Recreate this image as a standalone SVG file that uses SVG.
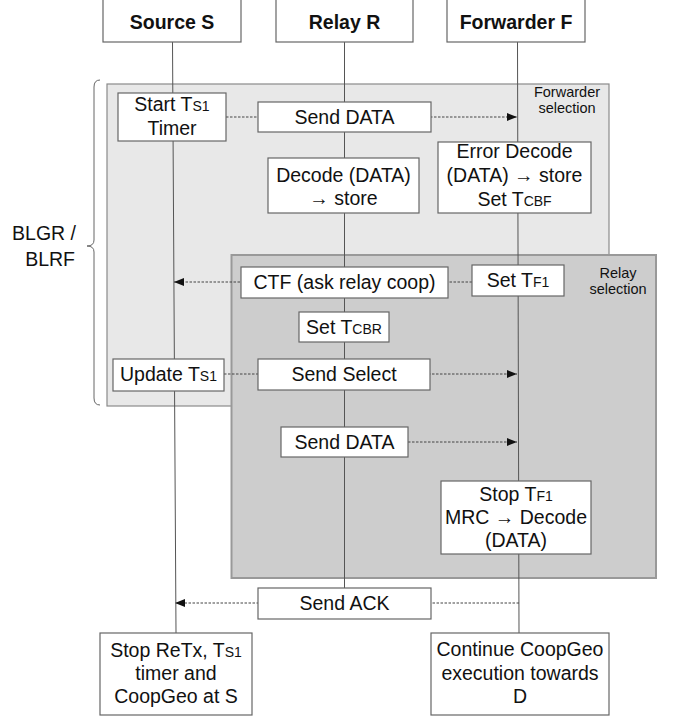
<svg xmlns="http://www.w3.org/2000/svg" width="673" height="717" viewBox="0 0 673 717">
<defs>
<marker id="ah" viewBox="0 0 10 10" refX="10" refY="5" markerWidth="10" markerHeight="10" markerUnits="userSpaceOnUse" orient="auto">
<path d="M0,1 L10,5 L0,9 Z" fill="#111"/>
</marker>
<style>
text{font-family:"Liberation Sans",Arial,sans-serif;font-size:19.5px;fill:#111;text-anchor:middle}
.hdr{font-weight:bold}
.sm{font-size:14px}
.lbl{font-size:14.5px}
.box{fill:#fff;stroke:#666;stroke-width:1.2}
.life{stroke:#555;stroke-width:1;fill:none}
.msg{stroke:#444;stroke-width:1;stroke-dasharray:2.5 1.5;fill:none}
</style>
</defs>
<rect width="673" height="717" fill="#fff"/>
<g id="panel-forwarder-selection">
<rect x="107" y="84" width="502" height="322" fill="#e8e8e8" stroke="#8a8a8a" stroke-width="1.2"/>
<text class="lbl" x="567" y="97">Forwarder</text>
<text class="lbl" x="567" y="113">selection</text>
</g>
<g id="panel-relay-selection">
<rect x="231.5" y="255" width="424.5" height="323" fill="#cdcdcd" stroke="#999" stroke-width="2"/>
<text class="lbl" x="618" y="278">Relay</text>
<text class="lbl" x="618" y="294">selection</text>
</g>
<g id="brace">
<path d="M100,80 Q94,80 94,87 L94,240 Q94,246 87,246 Q94,246 94,252 L94,398 Q94,405 100,405" fill="none" stroke="#666" stroke-width="1"/>
<text x="76" y="240" style="text-anchor:end">BLGR /</text>
<text x="75" y="266" style="text-anchor:end">BLRF</text>
</g>
<g id="lifelines">
<line class="life" x1="172.5" y1="42" x2="176" y2="633"/>
<line class="life" x1="344.5" y1="42" x2="344.5" y2="588"/>
<line class="life" x1="517.5" y1="42" x2="519" y2="633"/>
</g>
<g id="connectors">
<line class="msg" x1="226" y1="117" x2="517" y2="117" marker-end="url(#ah)"/>
<line class="msg" x1="472" y1="282" x2="174" y2="282" marker-end="url(#ah)"/>
<line class="msg" x1="224" y1="374" x2="517" y2="374" marker-end="url(#ah)"/>
<line class="msg" x1="408" y1="442" x2="517" y2="442" marker-end="url(#ah)"/>
<line class="msg" x1="519" y1="603" x2="175" y2="603" marker-end="url(#ah)"/>
</g>
<g id="source-s">
<rect class="box" x="103" y="-2" width="138" height="44"/>
<text class="hdr" x="172" y="29">Source S</text>
</g>
<g id="relay-r">
<rect class="box" x="276" y="-2" width="137" height="44"/>
<text class="hdr" x="344.5" y="29">Relay R</text>
</g>
<g id="forwarder-f">
<rect class="box" x="447" y="-2" width="138" height="44"/>
<text class="hdr" x="516" y="29">Forwarder F</text>
</g>
<g id="start-ts1">
<rect class="box" x="118" y="93" width="108" height="48"/>
<text x="172" y="111">Start T<tspan class="sm">S1</tspan></text>
<text x="172" y="135">Timer</text>
</g>
<g id="send-data-1">
<rect class="box" x="258" y="102" width="173" height="30"/>
<text x="344.5" y="124">Send DATA</text>
</g>
<g id="decode-store">
<rect class="box" x="268" y="158" width="151" height="55"/>
<text x="343.5" y="182">Decode (DATA)</text>
<text x="343.5" y="205">→ store</text>
</g>
<g id="error-decode">
<rect class="box" x="438" y="142" width="153" height="71"/>
<text x="514.5" y="158">Error Decode</text>
<text x="514.5" y="182">(DATA) → store</text>
<text x="514.5" y="206">Set T<tspan class="sm">CBF</tspan></text>
</g>
<g id="ctf">
<rect class="box" x="241" y="267" width="207" height="31"/>
<text x="344.5" y="289">CTF (ask relay coop)</text>
</g>
<g id="set-tf1">
<rect class="box" x="472" y="265" width="92" height="31"/>
<text x="518" y="287">Set T<tspan class="sm">F1</tspan></text>
</g>
<g id="set-tcbr">
<rect class="box" x="299" y="312" width="90" height="30"/>
<text x="344" y="334">Set T<tspan class="sm">CBR</tspan></text>
</g>
<g id="update-ts1">
<rect class="box" x="113" y="359" width="111" height="32"/>
<text x="168.5" y="381">Update T<tspan class="sm">S1</tspan></text>
</g>
<g id="send-select">
<rect class="box" x="258" y="359" width="172" height="31"/>
<text x="344" y="381">Send Select</text>
</g>
<g id="send-data-2">
<rect class="box" x="281" y="427" width="127" height="30"/>
<text x="344.5" y="449">Send DATA</text>
</g>
<g id="stop-tf1">
<rect class="box" x="441" y="481" width="150" height="73"/>
<text x="516" y="501">Stop T<tspan class="sm">F1</tspan></text>
<text x="516" y="524">MRC → Decode</text>
<text x="516" y="547">(DATA)</text>
</g>
<g id="send-ack">
<rect class="box" x="258" y="588" width="173" height="31"/>
<text x="344.5" y="610">Send ACK</text>
</g>
<g id="stop-retx">
<rect class="box" x="100" y="633" width="152" height="82"/>
<text x="176" y="657">Stop ReTx, T<tspan class="sm">S1</tspan></text>
<text x="176" y="680">timer and</text>
<text x="176" y="703">CoopGeo at S</text>
</g>
<g id="continue-coopgeo">
<rect class="box" x="431" y="633" width="178" height="82"/>
<text x="520" y="656">Continue CoopGeo</text>
<text x="520" y="680">execution towards</text>
<text x="520" y="703">D</text>
</g>
</svg>
